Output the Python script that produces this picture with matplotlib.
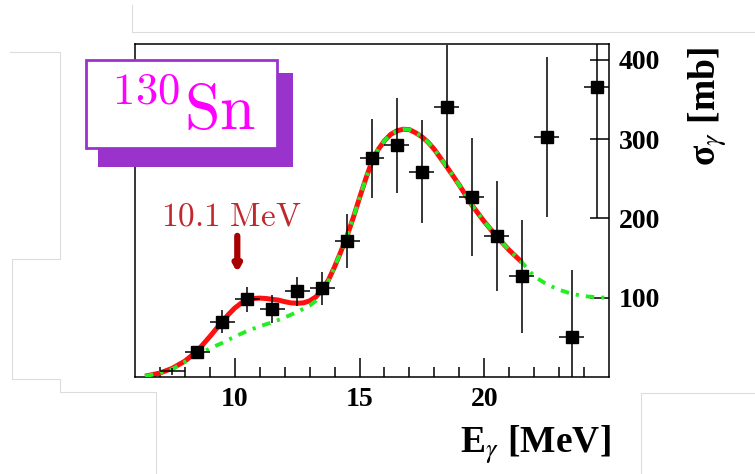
import matplotlib.pyplot as plt
from matplotlib.lines import Line2D
from matplotlib.patches import Rectangle
import numpy as np

# Mesures (section efficace photo-absorption, 130Sn)
e_gamma = [7.5, 8.5, 9.5, 10.5, 11.5, 12.5, 13.5, 14.5, 15.5, 16.5, 17.5, 18.5,
           19.5, 20.5, 21.5, 22.5, 23.5, 24.5]
sigma = [7, 31, 70, 98, 86, 108, 112, 171, 276, 292, 259, 341,
         227, 178, 127, 303, 51, 366]
sigma_err = [4, 8, 14, 16, 18, 18, 21, 34, 50, 60, 65, 78,
             74, 69, 71, 101, 84, 165]
e_err = [0.5] * len(e_gamma)

# Ajustement total (GDR + pygmy)
fit_e = [6.4, 7.0, 7.5, 8.0, 8.5, 9.0, 9.5, 9.75, 10.0, 10.25, 10.5, 10.75,
         11.0, 11.25, 11.5, 11.75, 12.0, 12.25, 12.5, 12.75, 13.0, 13.25,
         13.5, 13.75, 14.0, 14.25, 14.5, 14.75, 15.0, 15.25, 15.5, 15.75,
         16.0, 16.25, 16.5, 16.75, 17.0, 17.25, 17.5, 17.75, 18.0, 18.5,
         19.0, 19.5, 20.0, 20.5, 21.0, 21.5]
fit_sigma = [1, 5, 11, 20, 33, 51, 70, 79, 87, 93, 97, 99,
             99.5, 99, 98, 97, 95, 93.5, 93, 93.5, 96, 101,
             110, 122, 139, 158, 178, 201, 226, 250, 272, 287,
             298, 306, 310.5, 312.5, 312, 308, 303, 296, 287, 265,
             242, 217, 196, 177, 160, 145]

# GDR seule
gdr_e = [6.4, 7.0, 7.5, 8.0, 8.5, 9.0, 9.5, 10.0, 10.5, 11.0, 11.5, 12.0,
         12.5, 13.0, 13.25, 13.5, 13.75, 14.0, 14.25, 14.5, 14.75, 15.0,
         15.25, 15.5, 15.75, 16.0, 16.25, 16.5, 16.75, 17.0, 17.25, 17.5,
         17.75, 18.0, 18.5, 19.0, 19.5, 20.0, 20.5, 21.0, 21.5, 22.0, 22.5,
         23.0, 23.5, 24.0, 24.5, 24.9]
gdr_sigma = [1, 5, 10, 19, 28, 36, 43, 51, 58, 64, 69, 75,
             82, 90, 96, 106, 121, 139, 158, 178, 201, 226,
             250, 272, 287, 298, 306, 310.5, 312.5, 312, 308, 303,
             296, 287, 265, 242, 217, 196, 177, 160, 145, 127, 117,
             110, 105, 102, 100.5, 100]

pygmy_e = 10.1

W, H = 755, 474
fig = plt.figure(figsize=(W / 100, H / 100), dpi=100)
ax = fig.add_axes([135 / W, 1 - 377 / H, 474 / W, 333 / H])

serif = "Liberation Serif"

ax.plot(fit_e, fit_sigma, color="#ff1010", lw=3.6, solid_capstyle="butt", zorder=2)
ax.plot(gdr_e, gdr_sigma, color="#22ee22", lw=2.8,
        linestyle=(0, (2.2, 1.8, 0.8, 1.8)), zorder=3)

ax.errorbar(e_gamma, sigma, yerr=sigma_err, xerr=e_err, fmt="none",
            ecolor="black", elinewidth=1.1, capsize=0, zorder=4)
ax.plot(e_gamma[1:], sigma[1:], "s", color="black", markersize=8, zorder=5)

# fleche du pygmy
ax.annotate("", xy=(pygmy_e, 132), xytext=(pygmy_e, 178),
            arrowprops=dict(arrowstyle="-|>,head_width=0.2,head_length=0.35",
                            lw=4.5, color="#a80000", shrinkA=0, shrinkB=0))
ax.text(9.85, 191, r"$\mathrm{10.1\ MeV}$", math_fontfamily="cm",
        fontsize=24, color="#c0282d", ha="center", va="baseline")

ax.set_xlim(6, 25)
ax.set_ylim(0, 420)
ax.set_xticks([10, 15, 20])
ax.set_xticks([x for x in range(7, 25) if x % 5 != 0], minor=True)
ax.set_yticks([100, 200, 300, 400])
ax.yaxis.tick_right()
ax.tick_params(axis="x", which="major", direction="in", length=14, width=1.1,
               top=False, pad=7)
ax.tick_params(axis="x", which="minor", direction="in", length=7, width=1.1,
               top=False)
ax.tick_params(axis="y", direction="in", length=14, width=1.1, left=False,
               right=True, labelleft=False, labelright=True, pad=7)
for lab in ax.get_xticklabels() + ax.get_yticklabels():
    lab.set_fontfamily(serif)
    lab.set_fontweight("bold")
    lab.set_fontsize(20)
for s in ax.spines.values():
    s.set_linewidth(1.1)

ax.text(1.004, -0.228, r"E$_{\gamma}$ [MeV]", transform=ax.transAxes,
        ha="right", va="baseline", fontsize=27, fontweight="bold",
        family=serif, math_fontfamily="stix")
ax.text(1.209, 0.991, "σ$_{\\gamma}$ [mb]", transform=ax.transAxes,
        rotation=90, ha="center", va="top", fontsize=27, fontweight="bold",
        family=serif, math_fontfamily="stix")

# encadre 130Sn
def fr(x0, y0, x1, y1):
    return (x0 / W, 1 - y1 / H), (x1 - x0) / W, (y1 - y0) / H

xy, w, h = fr(98, 73, 293, 167)
fig.add_artist(Rectangle(xy, w, h, transform=fig.transFigure,
                         facecolor="#9933cc", edgecolor="none", zorder=10))
xy, w, h = fr(86, 60, 277, 148)
fig.add_artist(Rectangle(xy, w, h, transform=fig.transFigure,
                         facecolor="white", edgecolor="#9933cc", lw=2, zorder=11))
fig.text(110 / W, 1 - 130 / H, r"$^{\mathrm{130}}\mathrm{Sn}$",
         math_fontfamily="cm", fontsize=46, color="#ff00ff",
         ha="left", va="baseline", zorder=12)

# traits gris de la capture
gris = dict(color="#dcdcdc", lw=0.8, zorder=0)
paths = [
    [(132, 5), (132, 32), (755, 32)],
    [(10, 52), (60, 52), (60, 259), (12, 259), (12, 379), (60, 379),
     (60, 392), (156, 392), (156, 474)],
    [(641, 474), (641, 393), (755, 393)],
]
for p in paths:
    px = np.array(p, dtype=float)
    fig.add_artist(Line2D(px[:, 0] / W, 1 - px[:, 1] / H,
                          transform=fig.transFigure, **gris))

fig.savefig("out.png", dpi=100)
